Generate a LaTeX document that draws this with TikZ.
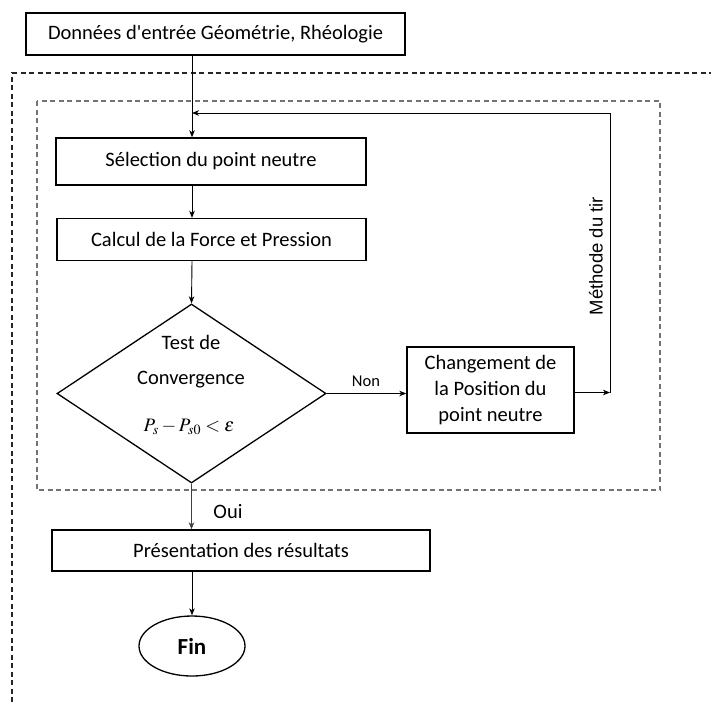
\documentclass[tikz,border=0pt]{standalone}
\usepackage{mathptmx}
\usepackage{fontspec}
\setmainfont{Carlito}[Ligatures=TeXOff]
\newfontfamily\methfont{Liberation Sans}
\usetikzlibrary{shapes.geometric,arrows.meta}
\begin{document}
\begin{tikzpicture}[x=1pt,y=-1pt,
  txt/.style={inner sep=0pt,font=\fontsize{20.5}{26}\selectfont},
  box/.style={draw,line width=1.4pt,inner sep=0pt,align=center,font=\fontsize{20.5}{26}\selectfont},
  arr/.style={-{Stealth[length=7pt,width=5.5pt,inset=2pt]},line width=0.9pt},
  conn/.style={line width=0.9pt},
  outerdash/.style={line width=1.2pt,black!85,dash pattern=on 5pt off 3.5pt},
  innerdash/.style={line width=1.2pt,black!55,dash pattern=on 5pt off 3.5pt}]
\useasboundingbox (0,0) rectangle (711,702);
% dashed frames
\draw[outerdash] (12,702) -- (12,73) -- (711,73);
\draw[innerdash] (37,101) rectangle (660,490);
% nodes
\node[box,minimum width=379pt,minimum height=42pt] (inp) at (215.5,34) {Données d'entrée Géométrie, Rhéologie};
\node[box,minimum width=310pt,minimum height=47pt] (sel) at (211,161.5) {Sélection du point neutre};
\node[box,minimum width=309pt,minimum height=42pt] (calc) at (211.5,239.5) {Calcul de la Force et Pression};
\node[draw,diamond,line width=1.3pt,minimum width=269pt,minimum height=179pt,inner sep=0pt] (dia) at (191.5,393.5) {};
\node[txt] (t1) at (191,342) {Test de};
\node[txt] (t2) at (191,380) {Convergence};
\node[txt,font=\fontsize{19}{22}\selectfont] (t3) at (189,427) {$P_s - P_{s0} < \varepsilon$};
\node[box,minimum width=167pt,minimum height=86pt] (chg) at (490.5,390) {Changement de\\la Position du\\point neutre};
\node[box,minimum width=378pt,minimum height=41pt] (pres) at (241,550.5) {Présentation des résultats};
\node[draw,ellipse,line width=1.3pt,minimum width=106pt,minimum height=60pt,inner sep=0pt,font=\bfseries\fontsize{23}{26}\selectfont] (fin) at (192,646) {Fin};
\node[txt,font=\fontsize{16.5}{20}\selectfont] (non) at (366,381) {Non};
\node[txt] (oui) at (228,512) {Oui};
\node[inner sep=0pt,rotate=90,font=\methfont\fontsize{18.5}{22}\selectfont] (meth) at (596,256) {Méthode du tir};
% connectors
\coordinate (vx) at (192,0);
\coordinate (c1) at (610,392.5);
\coordinate (c2) at (192,113);
\draw[arr] (inp.south -| vx) -- (sel.north -| vx);
\draw[arr] (sel.south -| vx) -- (calc.north -| vx);
\draw[arr] (calc.south -| vx) -- (dia.north);
\draw[arr] (dia.east) -- (chg.west |- dia.east);
\draw[arr] (chg.east |- c1) -- (c1);
\draw[arr] (c1) |- (c2);
\draw[arr,black!75] (dia.south) -- (pres.north -| dia.south);
\draw[arr] (pres.south -| fin.north) -- (fin.north);
\end{tikzpicture}
\end{document}
